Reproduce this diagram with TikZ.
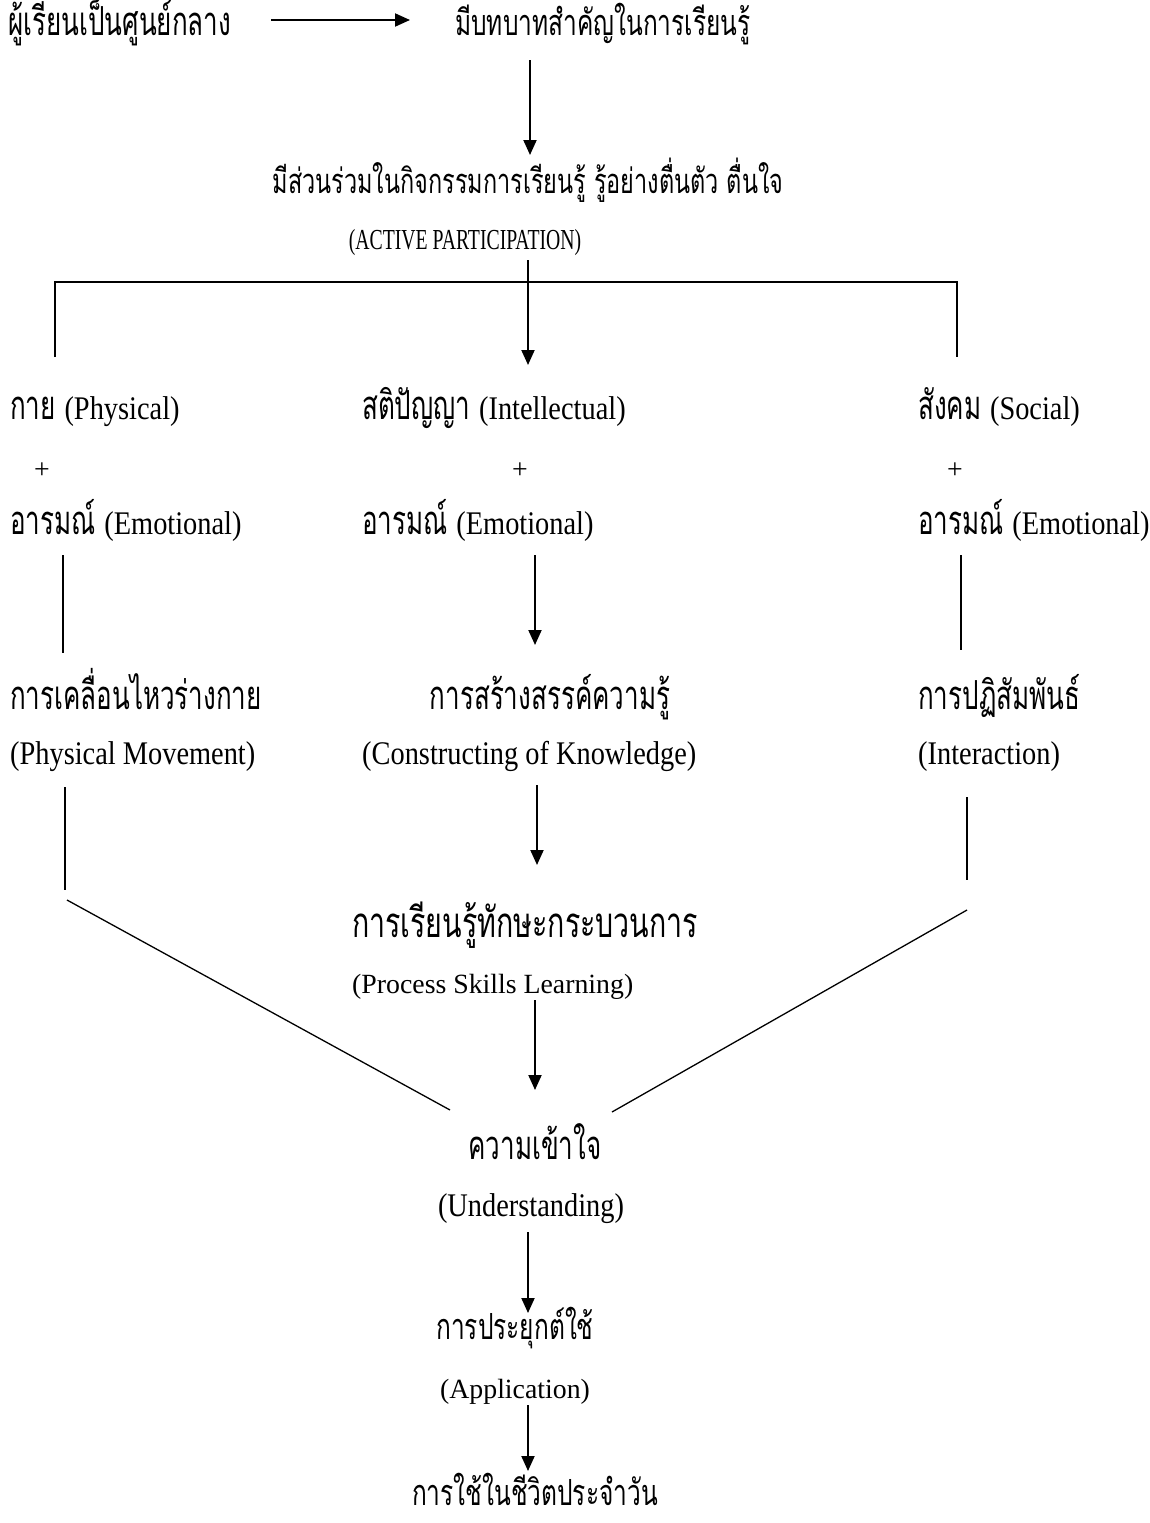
\documentclass[tikz,border=0pt]{standalone}
\usepackage{fontspec}
\setmainfont{Liberation Serif}
\newfontfamily\thaia[Script=Thai,FakeStretch=0.65]{Loma}
\newfontfamily\thaib[Script=Thai,FakeStretch=0.68]{Loma}
\newfontfamily\lata[FakeStretch=0.86]{Liberation Serif}
\newfontfamily\latb[FakeStretch=0.68]{Liberation Serif}
\newcommand{\engl}[1]{{\lata\fontsize{33}{38}\selectfont #1}}
\usetikzlibrary{arrows.meta}
\usetikzlibrary{positioning}
\usetikzlibrary{decorations.markings}

\begin{document}
\begin{tikzpicture}[x=1pt,y=-1pt,
  txt/.style={inner sep=0pt,anchor=base west},
  ctxt/.style={inner sep=0pt,anchor=base},
  tha/.style={font=\thaia\fontsize{40}{46}\selectfont},
  thb/.style={font=\thaib\fontsize{36}{42}\selectfont},
  lat/.style={font=\fontsize{27.8}{33}\selectfont},
  latc/.style={font=\lata\fontsize{33}{38}\selectfont},
  plain/.style={line width=1.3pt},
  arr/.style={line width=2pt,
    decoration={markings,mark=at position 1 with {\arrow{Triangle[length=15pt,width=13pt]}}},
    postaction={decorate},
    shorten >=3pt}
  ]
  \useasboundingbox (0,0) rectangle (1150,1523);

  % top rows
  \node[txt,tha] (learner) at (8,35) {ผู้เรียนเป็นศูนย์กลาง};
  \node[txt,thb] (role) at (455,35) {มีบทบาทสำคัญในการเรียนรู้};
  \node[ctxt,font=\thaib\fontsize{34.5}{40}\selectfont] (partth) at (528,193) {มีส่วนร่วมในกิจกรรมการเรียนรู้ รู้อย่างตื่นตัว ตื่นใจ};
  \node[ctxt,font=\latb\fontsize{29}{34}\selectfont] (parten) at (465,249) {(ACTIVE PARTICIPATION)};

  \draw[arr] ([shift={(40,-15)}]learner.base east) -- ([shift={(-45,-15)}]role.base west);
  \draw[arr] ([shift={(2,25)}]partth.base |- role.base) -- ([shift={(2,-38)}]partth.base);

  % three branches
  \node[txt,tha] (physical) at (10,419) {กาย \engl{(Physical)}};
  \node[txt,tha] (intel) at (362,419) {สติปัญญา \engl{(Intellectual)}};
  \node[txt,tha] (social) at (918,419) {สังคม \engl{(Social)}};
  \node[ctxt,lat] (plusa) at (42,478) {+};
  \node[ctxt,lat] (plusb) at (520,478) {+};
  \node[ctxt,lat] (plusc) at (955,478) {+};
  \node[txt,tha] (emoa) at (10,534) {อารมณ์ \engl{(Emotional)}};
  \node[txt,tha] (emob) at (362,534) {อารมณ์ \engl{(Emotional)}};
  \node[txt,tha] (emoc) at (918,534) {อารมณ์ \engl{(Emotional)}};

  \coordinate (brk) at (528,282);
  \coordinate (legl) at (55,357);
  \coordinate (legr) at (957,357);
  \draw[plain] (legl) |- (brk) -| (legr);
  \draw[arr] ([yshift=-11pt]partth.base |- parten.base) -- ([yshift=54pt]partth.base |- intel.base);

  \node[txt,tha] (move) at (10,709) {การเคลื่อนไหวร่างกาย};
  \node[ctxt,tha] (constr) at (550,709) {การสร้างสรรค์ความรู้};
  \node[txt,tha] (inter) at (918,709) {การปฏิสัมพันธ์};
  \node[txt,latc] (moveen) at (10,764) {(Physical Movement)};
  \node[txt,latc] (constren) at (362,764) {(Constructing of Knowledge)};
  \node[txt,latc] (interen) at (918,764) {(Interaction)};

  \draw[plain] ([shift={(53,21)}]emoa.base west) -- ([shift={(53,-56)}]move.base west);
  \draw[arr] ([shift={(173,21)}]emob.base west) -- ([shift={(-15,-64)}]constr.base);
  \draw[plain] ([shift={(43,21)}]emoc.base west) -- ([shift={(43,-59)}]inter.base west);

  % process skills and understanding
  \node[txt,font=\thaib\fontsize{42}{48}\selectfont] (skill) at (352,937) {การเรียนรู้ทักษะกระบวนการ};
  \node[txt,lat] (skillen) at (352,993) {(Process Skills Learning)};
  \node[ctxt,tha] (under) at (535,1159) {ความเข้าใจ};
  \node[ctxt,latc] (underen) at (531,1216) {(Understanding)};

  \coordinate (jl) at (65,890);
  \coordinate (jr) at (967,880);
  \draw[plain] ([shift={(55,23)}]moveen.base west) -- (jl);
  \draw[plain] ([shift={(49,33)}]interen.base west) -- (jr);
  \draw[plain] ([shift={(2,10)}]jl) -- ([shift={(-85,-49)}]under.base);
  \draw[plain] ([yshift=-30pt]jr) -- ([shift={(77,-47)}]under.base);
  \draw[arr] ([shift={(-13,21)}]constr.base |- constren.base) -- ([shift={(-13,-72)}]constr.base |- skill.base);
  \draw[arr] ([yshift=-7pt]under.base |- skillen.base) -- ([yshift=69pt]under.base);

  % application
  \node[ctxt,thb] (appl) at (515,1339) {การประยุกต์ใช้};
  \node[ctxt,lat] (applen) at (515,1398) {(Application)};
  \node[ctxt,thb] (daily) at (535,1505) {การใช้ในชีวิตประจำวัน};

  \draw[arr] ([shift={(13,7)}]applen.base) -- ([shift={(-7,-34)}]daily.base);
  \draw[arr] ([shift={(-3,16)}]underen.base) -- ([shift={(13,-26)}]appl.base);
\end{tikzpicture}
\end{document}
